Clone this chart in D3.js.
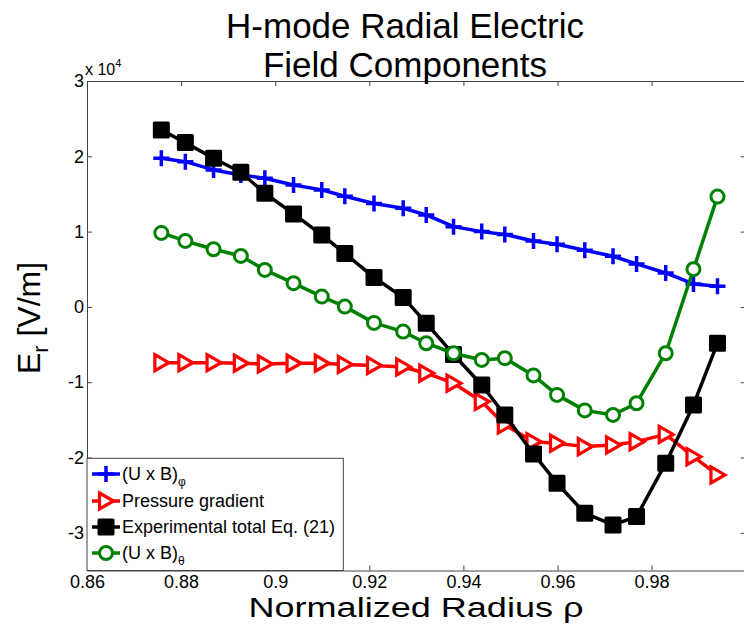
<!DOCTYPE html>
<html>
<head>
<meta charset="utf-8">
<script src="https://cdn.jsdelivr.net/npm/d3@7"></script>
<style>
body { margin:0; background:#fff; }
text { font-family:"Liberation Sans", Arial, Helvetica, sans-serif; fill:#000; }
</style>
</head>
<body>
<svg id="chart" width="744" height="631"></svg>
<script>

// normalized radius grid (shared by all four series)
var rho = [0.8758, 0.8809, 0.8869, 0.8927, 0.8978, 0.9039, 0.9099, 0.9148, 0.9210, 0.9272, 0.9321,
	0.9379, 0.9439, 0.9488, 0.9549, 0.9599, 0.9658, 0.9718, 0.9768, 0.9830, 0.9889, 0.9940];

// Er components in V/m
var uxbPhi = [19750, 19290, 18190, 17530, 17090, 16200, 15540, 14700, 13740, 13110, 12220,
	10660, 10000, 9630, 8760, 8330, 7530, 6730, 5710, 4510, 3050, 2750];
var pressureGrad = [-7400, -7400, -7400, -7480, -7570, -7480, -7480, -7640, -7770, -7970, -8800,
	-10130, -12570, -15670, -17890, -18100, -18550, -18320, -17890, -16930, -19880, -22310];
var expTotal = [23500, 21820, 19750, 17890, 15100, 12350, 9560, 7100, 3920, 1260, -2160,
	-6310, -10360, -14340, -19520, -23410, -27390, -28950, -27840, -20750, -13010, -4820];
var uxbTheta = [9830, 8760, 7660, 6770, 4910, 3150, 1370, 40, -2120, -3280, -4820,
	-6150, -7040, -6810, -9100, -11680, -13740, -14340, -12790, -6150, 5010, 14650];

var seriesNames = ["(U x B)", "Pressure gradient", "Experimental total Eq. (21)", "(U x B)"];
var seriesSubs = ["\u03c6", "", "", "\u03b8"];
var seriesColors = ["#0000ff", "#ff0000", "#000000", "#008000"];
var seriesMarkers = ["plus", "triangle", "square", "circle"];
var seriesValues = [uxbPhi, pressureGrad, expTotal, uxbTheta];

var xTicks = [0.86, 0.88, 0.9, 0.92, 0.94, 0.96, 0.98];
var yTicks = [-30000, -20000, -10000, 0, 10000, 20000, 30000];

var svg = d3.select("#chart");
var box = {left:87, right:745.7, top:81, bottom:570.5};

var x = d3.scaleLinear().domain([0.86, 1.0]).range([box.left, box.right]);
var y = d3.scaleLinear().domain([-35000, 30000]).range([box.bottom, box.top]);

// axes (ticks point inward like matlab)
function styleAxis(g){
	g.attr("font-size", 18).attr("font-family", "Liberation Sans, Arial, sans-serif");
	g.selectAll("path.domain").attr("stroke", "#444").attr("stroke-width", 1);
	g.selectAll(".tick line").attr("stroke", "#444");
	g.selectAll(".tick text").attr("fill", "#000");
}

svg.append("g").attr("transform", "translate(0," + box.bottom + ")")
	.call(d3.axisBottom(x).tickValues(xTicks).tickSize(-5).tickSizeOuter(0).tickPadding(5)
		.tickFormat(function(d){ return d3.format("")(+d.toFixed(2)); }))
	.call(styleAxis);
svg.append("g").attr("transform", "translate(0," + box.top + ")")
	.call(d3.axisTop(x).tickValues(xTicks).tickSize(-5).tickSizeOuter(0).tickFormat(""))
	.call(styleAxis);
svg.append("g").attr("transform", "translate(" + box.left + ",0)")
	.call(d3.axisLeft(y).tickValues(yTicks).tickSize(-5).tickSizeOuter(0).tickPadding(3)
		.tickFormat(function(d){ return d / 1e4; }))
	.call(styleAxis);
svg.append("g").attr("transform", "translate(" + box.right + ",0)")
	.call(d3.axisRight(y).tickValues(yTicks).tickSize(-5).tickSizeOuter(0).tickFormat(""))
	.call(styleAxis);

// exponent label
var expo = svg.append("text").attr("x", box.left - 2).attr("y", 75).attr("font-size", "16px");
expo.append("tspan").text("x 10");
expo.append("tspan").attr("font-size", "11px").attr("dy", -8).text("4");

// markers
function drawMarker(g, type, color){
	if (type === "plus") {
		g.append("path").attr("d", "M-8,0H8M0,-8V8")
			.attr("stroke", color).attr("stroke-width", 3.5).attr("fill", "none");
	} else if (type === "triangle") {
		g.append("path").attr("d", "M-6.5,-8L7.5,0L-6.5,8Z")
			.attr("stroke", color).attr("stroke-width", 3.2).attr("fill", "#fff");
	} else if (type === "square") {
		g.append("rect").attr("x", -7).attr("y", -7).attr("width", 14).attr("height", 14)
			.attr("stroke", color).attr("stroke-width", 3).attr("stroke-linejoin", "round")
			.attr("fill", color);
	} else {
		g.append("circle").attr("r", 6.5)
			.attr("stroke", color).attr("stroke-width", 3).attr("fill", "#fff");
	}
}

var line = d3.line()
	.x(function(d){ return x(d.rho); })
	.y(function(d){ return y(d.er); });

seriesValues.forEach(function(vals, i){
	var pts = vals.map(function(v, k){ return {rho:rho[k], er:v}; });
	var g = svg.append("g");
	g.append("path").datum(pts).attr("d", line)
		.attr("fill", "none").attr("stroke", seriesColors[i]).attr("stroke-width", 3.5)
		.attr("stroke-linejoin", "round");
	g.selectAll("g.mk").data(pts).enter().append("g").attr("class", "mk")
		.attr("transform", function(d){ return "translate(" + x(d.rho) + "," + y(d.er) + ")"; })
		.each(function(){ drawMarker(d3.select(this), seriesMarkers[i], seriesColors[i]); });
});

// legend
var legendY = [474, 501, 527, 553];
svg.append("rect").attr("x", box.left).attr("y", 458.3).attr("width", 256.3).attr("height", box.bottom - 458.3)
	.attr("fill", "#fff").attr("stroke", "#444").attr("stroke-width", 1);
seriesNames.forEach(function(name, i){
	var g = svg.append("g").attr("transform", "translate(0," + legendY[i] + ")");
	g.append("line").attr("x1", 92).attr("x2", 120).attr("y1", 0).attr("y2", 0)
		.attr("stroke", seriesColors[i]).attr("stroke-width", 3.5);
	var m = g.append("g").attr("transform", "translate(106,0)");
	drawMarker(m, seriesMarkers[i], seriesColors[i]);
	var t = g.append("text").attr("x", 122).attr("y", 6).attr("font-size", "18px");
	t.append("tspan").text(name);
	if (seriesSubs[i]) t.append("tspan").attr("font-size", "12px").attr("dy", 6).text(seriesSubs[i]);
});

// title and axis labels
var titleLines = ["H-mode Radial Electric", "Field Components"];
svg.selectAll("text.title").data(titleLines).enter().append("text").attr("class", "title")
	.attr("x", 405).attr("y", function(d, i){ return 38 + i * 39; })
	.attr("text-anchor", "middle").attr("font-size", "35px").text(function(d){ return d; });

svg.append("text").attr("x", 416).attr("y", 617).attr("text-anchor", "middle")
	.attr("font-size", "27px").attr("textLength", 335).attr("lengthAdjust", "spacingAndGlyphs")
	.text("Normalized Radius \u03c1");

var yl = svg.append("text").attr("transform", "translate(40,318) rotate(-90)")
	.attr("text-anchor", "middle").attr("font-size", "32px");
yl.append("tspan").text("E");
yl.append("tspan").attr("font-size", "22px").attr("dy", 8).text("r");
yl.append("tspan").attr("dy", -8).text(" [V/m]");

</script>
</body>
</html>
